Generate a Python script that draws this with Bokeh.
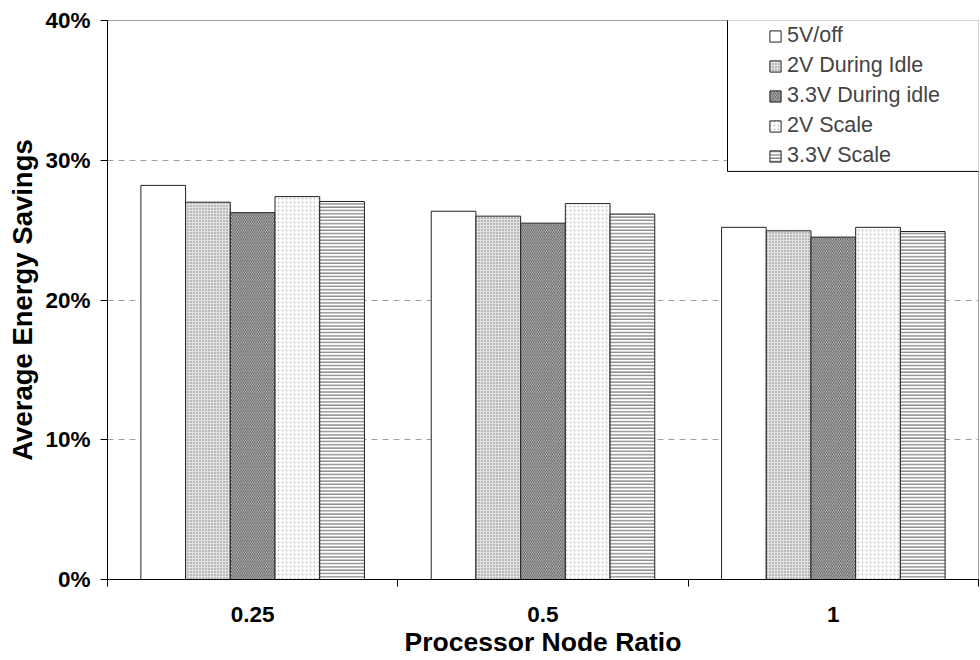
from bokeh.plotting import figure
from bokeh.models import (ColumnDataSource, Range1d, FixedTicker, NumeralTickFormatter,
                          Legend, LegendItem, BoxAnnotation)
from bokeh.transform import dodge
from bokeh.embed import file_html
from bokeh.resources import INLINE

# Processor node ratios (x categories)
ratios = ["0.25", "0.5", "1"]

# Average energy savings per policy (fractions)
v5_off = [0.282, 0.2635, 0.252]
v2_idle = [0.270, 0.260, 0.2495]
v33_idle = [0.2625, 0.255, 0.245]
v2_scale = [0.274, 0.269, 0.252]
v33_scale = [0.2705, 0.2615, 0.249]

series_names = ["5V/off", "2V During Idle", "3.3V During idle", "2V Scale", "3.3V Scale"]
series_values = [v5_off, v2_idle, v33_idle, v2_scale, v33_scale]
y_ticks = [0.0, 0.1, 0.2, 0.3, 0.4]

FONT = "Liberation Sans"

data = {"pos": [i + 0.5 for i in range(len(ratios))]}
for i, vals in enumerate(series_values):
    data[f"s{i}"] = vals
source = ColumnDataSource(data)

p = figure(width=980, height=660, output_backend="svg", toolbar_location=None,
           x_range=Range1d(0, len(ratios)), y_range=Range1d(0, 0.4),
           min_border_left=107, min_border_right=2, min_border_top=20, min_border_bottom=81)
p.background_fill_color = "white"
p.border_fill_color = "white"
p.outline_line_color = "#a0a0a0"
p.outline_line_width = 1

# bar look for each series: (fill, hatch pattern, hatch colour, hatch scale, hatch weight)
styles = [
    ("white", None, None, None, None),
    ("#e2e2e2", "dot", "#7a7a7a", 3, 1.4),
    ("#dcdcdc", "left_diagonal_line", "#4a4a4a", 3.5, 0.9),
    ("white", "dot", "#c4c4c4", 4, 1.2),
    ("white", "horizontal_line", "#8c8c8c", 3.3, 1.5),
]

bar_w = 0.154
items = []
for i, (name, st) in enumerate(zip(series_names, styles)):
    fill, hp, hc, hs, hw = st
    kw = dict(fill_color=fill, line_color="#222222", line_width=1)
    if hp:
        kw.update(hatch_pattern=hp, hatch_color=hc, hatch_scale=hs, hatch_weight=hw)
    r = p.vbar(x=dodge("pos", (i - 2) * bar_w, range=p.x_range), top=f"s{i}",
               width=bar_w, source=source, **kw)
    items.append(LegendItem(label=name, renderers=[r]))

# axes
p.xaxis.ticker = FixedTicker(ticks=[i + 0.5 for i in range(len(ratios))],
                             minor_ticks=list(range(len(ratios) + 1)))
p.xaxis.major_label_overrides = {i + 0.5: lab for i, lab in enumerate(ratios)}
p.xaxis.major_tick_out = 0
p.xaxis.major_tick_in = 0
p.xaxis.minor_tick_out = 7
p.xaxis.minor_tick_in = 0
p.xaxis.minor_tick_line_color = "black"
p.xaxis.major_label_standoff = 20
p.xaxis.axis_label = "Processor Node Ratio"
p.xaxis.axis_label_standoff = 2

p.yaxis.ticker = FixedTicker(ticks=y_ticks)
p.yaxis.formatter = NumeralTickFormatter(format="0%")
p.yaxis.major_tick_out = 7
p.yaxis.major_tick_in = 0
p.yaxis.minor_tick_line_color = None
p.yaxis.major_label_standoff = 10
p.yaxis.axis_label = "Average Energy Savings"
p.yaxis.axis_label_standoff = 4

for ax in (p.xaxis, p.yaxis):
    ax.axis_line_color = "black"
    ax.axis_line_width = 1
    ax.major_tick_line_color = "black"
    ax.major_label_text_font = FONT
    ax.major_label_text_font_style = "bold"
    ax.major_label_text_font_size = "22.5px"
    ax.major_label_text_color = "black"
    ax.axis_label_text_font = FONT
    ax.axis_label_text_font_style = "bold"
    ax.axis_label_text_color = "black"
p.xaxis.axis_label_text_font_size = "26.5px"
p.yaxis.axis_label_text_font_size = "27.5px"

p.xgrid.grid_line_color = None
p.ygrid.grid_line_color = "#a0a0a0"
p.ygrid.grid_line_dash = "6 5"
p.ygrid.grid_line_width = 1

# legend frame
p.add_layout(BoxAnnotation(left=2.1355, right=3.05, top=0.4036, bottom=0.292,
                           fill_color="white", fill_alpha=1.0,
                           line_color="black", line_width=1, line_alpha=1.0))

legend = Legend(items=items, location=(661, 411),
                label_text_font=FONT, label_text_font_size="21.5px",
                glyph_width=14, glyph_height=14, label_standoff=5,
                label_height=25, spacing=5, padding=0, margin=0,
                border_line_alpha=0, background_fill_alpha=0)
p.add_layout(legend)

open("out.html", "w").write(file_html(p, INLINE))
